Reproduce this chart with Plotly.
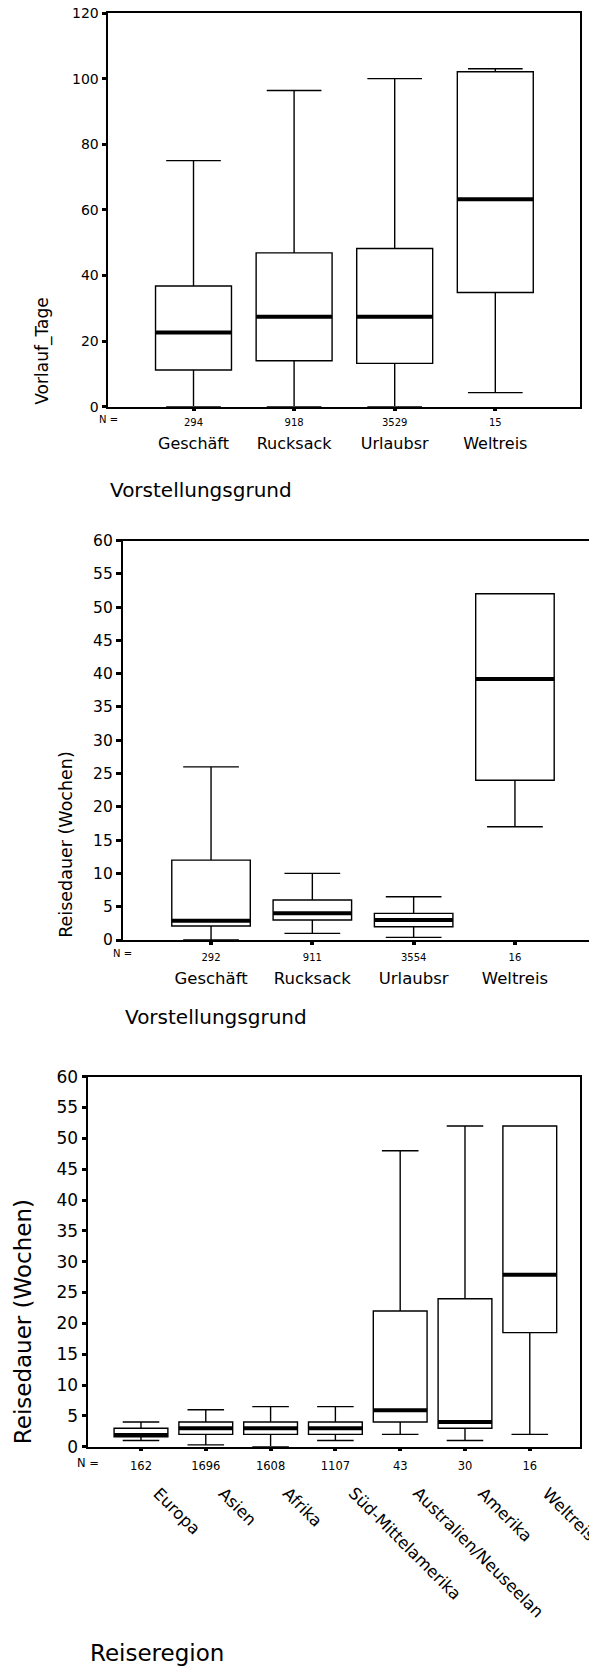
import plotly.graph_objects as go

W, H = 589, 1667
FONT = "DejaVu Sans"

# ---------------- data ----------------
grund_cats = ["Geschäft", "Rucksack", "Urlaubsr", "Weltreis"]

vorlauf_n = [294, 918, 3529, 15]
vorlauf_lower = [0, 0, 0, 4.3]
vorlauf_q1 = [11.2, 14.0, 13.2, 34.8]
vorlauf_median = [22.6, 27.4, 27.4, 63.2]
vorlauf_q3 = [36.8, 46.9, 48.2, 102.1]
vorlauf_upper = [75, 96.4, 100, 103]

dauer_grund_n = [292, 911, 3554, 16]
dauer_grund_lower = [0, 1.0, 0.4, 17]
dauer_grund_q1 = [2.1, 3.0, 2.0, 24]
dauer_grund_median = [2.9, 4.0, 3.0, 39.2]
dauer_grund_q3 = [12, 6.0, 4.0, 52]
dauer_grund_upper = [26, 10, 6.5, 52]

region_cats = ["Europa", "Asien", "Afrika", "Süd-Mittelamerika",
               "Australien/Neuseelan", "Amerika", "Weltreisen"]
dauer_region_n = [162, 1696, 1608, 1107, 43, 30, 16]
dauer_region_lower = [1.0, 0.3, 0.0, 1.0, 2.0, 1.0, 2.0]
dauer_region_q1 = [1.6, 2.0, 2.0, 2.0, 4.0, 3.0, 18.5]
dauer_region_median = [1.9, 3.0, 3.0, 3.0, 5.9, 4.0, 27.9]
dauer_region_q3 = [3.0, 4.0, 4.0, 4.0, 22.0, 24.0, 52.0]
dauer_region_upper = [4.0, 6.0, 6.5, 6.5, 48.0, 52.0, 52.0]

# ---------------- layout specs (pixels) ----------------
charts = [
    dict(cats=grund_cats, n=vorlauf_n, lo=vorlauf_lower, q1=vorlauf_q1, med=vorlauf_median,
         q3=vorlauf_q3, up=vorlauf_upper,
         left=108.3, right=580.4, top=13.0, bottom=406.7, yr=[0, 120], dtick=20,
         xr=[-0.847, 3.846], bw=0.755, ww=0.72, tickfs=14, nfs=10, catfs=16,
         nstand=3, catstand=25, rotated=False, mirror_y=True,
         ytitle="Vorlauf_Tage", ytfs=17, ytx=42.5,
         title="Vorstellungsgrund", titlefs=20, titley=490.0, ny=419.3),
    dict(cats=grund_cats, n=dauer_grund_n, lo=dauer_grund_lower, q1=dauer_grund_q1,
         med=dauer_grund_median, q3=dauer_grund_q3, up=dauer_grund_upper,
         left=122.7, right=589.0, top=540.5, bottom=940.0, yr=[0, 60], dtick=5,
         xr=[-0.872, 3.731], bw=0.775, ww=0.71, tickfs=15.5, nfs=10, catfs=16.5,
         nstand=4, catstand=26, rotated=False, mirror_y=False,
         ytitle="Reisedauer (Wochen)", ytfs=17.5, ytx=65.3,
         title="Vorstellungsgrund", titlefs=20, titley=1016.7, ny=953.3),
    dict(cats=region_cats, n=dauer_region_n, lo=dauer_region_lower, q1=dauer_region_q1,
         med=dauer_region_median, q3=dauer_region_q3, up=dauer_region_upper,
         left=88.3, right=580.4, top=1076.7, bottom=1446.7, yr=[0, 60], dtick=5,
         xr=[-0.813, 6.781], bw=0.83, ww=0.68, tickfs=17, nfs=11.5, catfs=16.5,
         nstand=5, rotated=True, rot_top=1481.0, rot_shift=6, mirror_y=True,
         ytitle="Reisedauer (Wochen)", ytfs=23, ytx=23,
         title="Reiseregion", titlefs=23, titley=1653.3, ny=1463.3),
]


def px(v):
    return v / W


def py(v):
    return 1 - v / H


fig = go.Figure()
layout = {}
annotations = []

for k, c in enumerate(charts, start=1):
    xa, ya, xo = f"x{k}", f"y{k}", f"x{k + 3}"
    idx = list(range(len(c["cats"])))

    fig.add_trace(go.Box(
        x=idx, q1=c["q1"], median=c["med"], q3=c["q3"],
        lowerfence=c["lo"], upperfence=c["up"],
        width=c["bw"], whiskerwidth=c["ww"], boxpoints=False,
        fillcolor="white", line=dict(color="black", width=1.4),
        xaxis=xa, yaxis=ya, hoverinfo="skip", showlegend=False))

    mx, my = [], []
    for i, m in zip(idx, c["med"]):
        mx += [i - c["bw"] / 2, i + c["bw"] / 2, None]
        my += [m, m, None]
    fig.add_trace(go.Scatter(x=mx, y=my, mode="lines",
                             line=dict(color="black", width=4),
                             xaxis=xa, yaxis=ya, hoverinfo="skip", showlegend=False))

    xdom = [px(c["left"]), px(c["right"])]
    ydom = [py(c["bottom"]), py(c["top"])]

    layout[f"xaxis{k}"] = dict(
        domain=xdom, range=c["xr"], anchor=ya, type="linear",
        tickmode="array", tickvals=idx, ticktext=[str(v) for v in c["n"]],
        ticks="outside", ticklen=3, tickwidth=4, tickcolor="black",
        showline=True, linecolor="black", linewidth=1.5, mirror=True,
        showgrid=False, zeroline=False, automargin=False,
        ticklabeloverflow="allow",
        tickfont=dict(family=FONT, size=c["nfs"], color="black"),
        ticklabelstandoff=c["nstand"])
    layout[f"yaxis{k}"] = dict(
        domain=ydom, range=c["yr"], anchor=xa, dtick=c["dtick"], tick0=0,
        ticks="outside", ticklen=5, tickwidth=3, tickcolor="black",
        showline=True, linecolor="black", linewidth=1.5, mirror=c["mirror_y"],
        showgrid=False, zeroline=False, automargin=False,
        tickfont=dict(family=FONT, size=c["tickfs"], color="black"))

    if c["rotated"]:
        for i, name in zip(idx, c["cats"]):
            annotations.append(dict(
                text=name, xref=xa, yref="paper", x=i, y=py(c["rot_top"]),
                xshift=c["rot_shift"], xanchor="left", yanchor="top",
                textangle=45, showarrow=False,
                font=dict(family=FONT, size=c["catfs"], color="black")))
    else:
        # carrier trace for the category-label axis
        fig.add_trace(go.Scatter(x=idx, y=[None] * len(idx), mode="markers",
                                 xaxis=xo, yaxis=ya, hoverinfo="skip", showlegend=False))
        layout[f"xaxis{k + 3}"] = dict(
            domain=xdom, range=c["xr"], anchor=ya, overlaying=xa, side="bottom",
            type="linear", tickmode="array", tickvals=idx, ticktext=c["cats"],
            ticks="", showline=False, showgrid=False, zeroline=False, automargin=False,
            ticklabeloverflow="allow",
            tickfont=dict(family=FONT, size=c["catfs"], color="black"),
            ticklabelstandoff=c["catstand"])

    annotations.append(dict(text="N =", xref="paper", yref="paper",
                            x=px(c["left"]), y=py(c["ny"]), xanchor="center",
                            yanchor="middle", showarrow=False,
                            font=dict(family=FONT, size=c["nfs"], color="black")))
    annotations.append(dict(text=c["title"], xref="paper", yref="paper",
                            x=px(c["left"]), y=py(c["titley"]), xanchor="left",
                            yanchor="middle", showarrow=False,
                            font=dict(family=FONT, size=c["titlefs"], color="black")))
    annotations.append(dict(text=c["ytitle"], xref="paper", yref="paper",
                            x=px(c["ytx"]), y=py(c["bottom"]), xanchor="center",
                            yanchor="bottom", textangle=-90, showarrow=False,
                            font=dict(family=FONT, size=c["ytfs"], color="black")))

fig.update_layout(
    width=W, height=H, margin=dict(l=0, r=0, t=0, b=0, pad=0),
    paper_bgcolor="white", plot_bgcolor="white", showlegend=False,
    annotations=annotations, **layout)

fig.write_html("out.html")
